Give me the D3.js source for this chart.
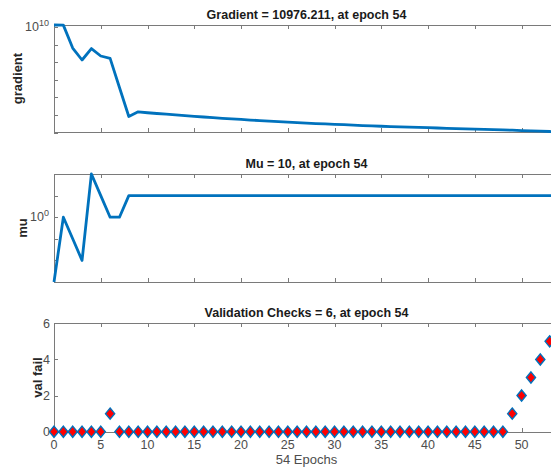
<!DOCTYPE html>
<html>
<head>
<meta charset="utf-8">
<script src="https://cdn.jsdelivr.net/npm/d3@7"></script>
<style>
	body { margin: 0; background: #fff; }
	svg { display: block; font-family: "Liberation Sans", Arial, sans-serif; }
</style>
</head>
<body>
<div id="chart"></div>
<script>
'use strict';
// training state: gradient, mu, val fail per epoch

const epochs = d3.range(0, 55);
const xTicks = [0, 5, 10, 15, 20, 25, 30, 35, 40, 45, 50];

const gradient = [
	1.3e10, 1.28e10, 6.4e8, 1.34e8, 6.0e8, 2.26e8, 1.67e8, 3.7e6, 8.3e4, 1.53e5,
	1.36e5, 1.23e5, 1.12e5, 1.03e5, 9.4e4, 8.55e4, 7.8e4, 7.1e4, 6.6e4, 6.1e4,
	5.65e4, 5.2e4, 4.9e4, 4.6e4, 4.3e4, 4.03e4, 3.78e4, 3.54e4, 3.31e4, 3.15e4,
	2.99e4, 2.84e4, 2.69e4, 2.55e4, 2.43e4, 2.33e4, 2.24e4, 2.16e4, 2.07e4, 2.0e4,
	1.92e4, 1.85e4, 1.78e4, 1.71e4, 1.64e4, 1.58e4, 1.54e4, 1.48e4, 1.44e4, 1.39e4,
	1.33e4, 1.28e4, 1.23e4, 1.17e4, 10976.211
];
const gradientTicks = [1e4, 1e5, 1e6, 1e7, 1e8, 1e9, 1e10];

const mu = [
	0.001, 1, 0.1, 0.01, 100, 10, 1, 1, 10, 10,
	10, 10, 10, 10, 10, 10, 10, 10, 10, 10,
	10, 10, 10, 10, 10, 10, 10, 10, 10, 10,
	10, 10, 10, 10, 10, 10, 10, 10, 10, 10,
	10, 10, 10, 10, 10, 10, 10, 10, 10, 10,
	10, 10, 10, 10, 10
];
const muTicks = [0.001, 0.01, 0.1, 1, 10, 100];

const valFail = [
	0, 0, 0, 0, 0, 0, 1, 0, 0, 0,
	0, 0, 0, 0, 0, 0, 0, 0, 0, 0,
	0, 0, 0, 0, 0, 0, 0, 0, 0, 0,
	0, 0, 0, 0, 0, 0, 0, 0, 0, 0,
	0, 0, 0, 0, 0, 0, 0, 0, 0, 1,
	2, 3, 4, 5, 6
];
const valTicks = [0, 2, 4, 6];

const titles = [
	'Gradient = 10976.211, at epoch 54',
	'Mu = 10, at epoch 54',
	'Validation Checks = 6, at epoch 54'
];

var W = 551, H = 467;
var left = 54, right = 559;
var axisCol = '#7a7a7a', tickCol = '#4d4d4d', lineCol = '#0072BD';

var svg = d3.select('#chart').append('svg')
	.attr('width', W)
	.attr('height', H);

var x = d3.scaleLinear().domain([0, 54]).range([left, right]);

function frame(top, bottom, title, ylab, labX) {
	var g = svg.append('g');
	g.append('rect')
		.attr('x', left + 0.5).attr('y', top + 0.5)
		.attr('width', right - left).attr('height', bottom - top)
		.attr('fill', 'none').attr('stroke', axisCol).attr('stroke-width', 1);

	// x ticks on bottom + top, pointing inward
	g.selectAll('.xb').data(xTicks).enter().append('line')
		.attr('x1', d => Math.round(x(d)) + 0.5).attr('x2', d => Math.round(x(d)) + 0.5)
		.attr('y1', bottom).attr('y2', bottom - 4)
		.attr('stroke', axisCol);
	g.selectAll('.xt').data(xTicks).enter().append('line')
		.attr('x1', d => Math.round(x(d)) + 0.5).attr('x2', d => Math.round(x(d)) + 0.5)
		.attr('y1', top).attr('y2', top + 4)
		.attr('stroke', axisCol);

	g.append('text')
		.attr('x', (left + right) / 2).attr('y', top - 6)
		.attr('text-anchor', 'middle')
		.attr('font-size', 12.5).attr('font-weight', 'bold')
		.attr('fill', '#1a1a1a')
		.text(title);

	g.append('text')
		.attr('transform', 'translate(' + labX + ',' + ((top + bottom) / 2) + ') rotate(-90)')
		.attr('text-anchor', 'middle')
		.attr('dy', '0.35em')
		.attr('font-size', 13).attr('font-weight', 'bold')
		.attr('fill', '#262626')
		.text(ylab);
	return g;
}

function yTickMarks(g, ticks, y) {
	g.selectAll('.yt').data(ticks).enter().append('line')
		.attr('x1', left).attr('x2', left + 4)
		.attr('y1', d => Math.round(y(d)) + 0.5).attr('y2', d => Math.round(y(d)) + 0.5)
		.attr('stroke', axisCol);
}

function powLabel(g, yPos, base, exp) {
	var t = g.append('text')
		.attr('x', left - 5).attr('y', yPos + 4)
		.attr('text-anchor', 'end')
		.attr('font-size', 12.5).attr('fill', tickCol);
	t.append('tspan').text(base);
	t.append('tspan').attr('font-size', 9).attr('dy', -5).text(exp);
}

var line = d3.line().x((d, i) => x(i));

// gradient panel
var yG = d3.scaleLog().domain([10976.211, 1.3e10]).range([132, 25]);
var g1 = frame(25, 132, titles[0], 'gradient', 17);
yTickMarks(g1, gradientTicks, yG);
powLabel(g1, yG(1e10), '10', '10');
g1.append('path')
	.datum(gradient)
	.attr('d', line.y(d => yG(d)))
	.attr('fill', 'none').attr('stroke', lineCol)
	.attr('stroke-width', 2.8).attr('stroke-linejoin', 'round');

// mu panel
var yM = d3.scaleLog().domain([0.001, 100]).range([282, 174]);
var g2 = frame(174, 282, titles[1], 'mu', 22);
yTickMarks(g2, muTicks, yM);
powLabel(g2, yM(1), '10', '0');
g2.append('path')
	.datum(mu)
	.attr('d', line.y(d => yM(d)))
	.attr('fill', 'none').attr('stroke', lineCol)
	.attr('stroke-width', 2.8).attr('stroke-linejoin', 'round');

// validation checks panel
var yV = d3.scaleLinear().domain([0, 6]).range([431.7, 323.3]);
var g3 = frame(323, 432, titles[2], 'val fail', 37);
yTickMarks(g3, valTicks, yV);
g3.selectAll('.vl').data(valTicks).enter().append('text')
	.attr('x', left - 4).attr('y', d => yV(d) + 4.5)
	.attr('text-anchor', 'end')
	.attr('font-size', 12.5).attr('fill', tickCol)
	.text(d => d);
g3.selectAll('.xl').data(xTicks).enter().append('text')
	.attr('x', d => x(d)).attr('y', 449)
	.attr('text-anchor', 'middle')
	.attr('font-size', 12.5).attr('fill', tickCol)
	.text(d => d);

g3.selectAll('.mk').data(valFail).enter().append('path')
	.attr('transform', (d, i) => 'translate(' + x(i) + ',' + yV(d) + ')')
	.attr('d', 'M0,-5.6L4.6,0L0,5.6L-4.6,0Z')
	.attr('fill', '#ff0000')
	.attr('stroke', lineCol).attr('stroke-width', 1.4);

svg.append('text')
	.attr('x', (left + right) / 2).attr('y', 464)
	.attr('text-anchor', 'middle')
	.attr('font-size', 13).attr('fill', tickCol)
	.text(epochs.length - 1 + ' Epochs');
</script>
</body>
</html>
